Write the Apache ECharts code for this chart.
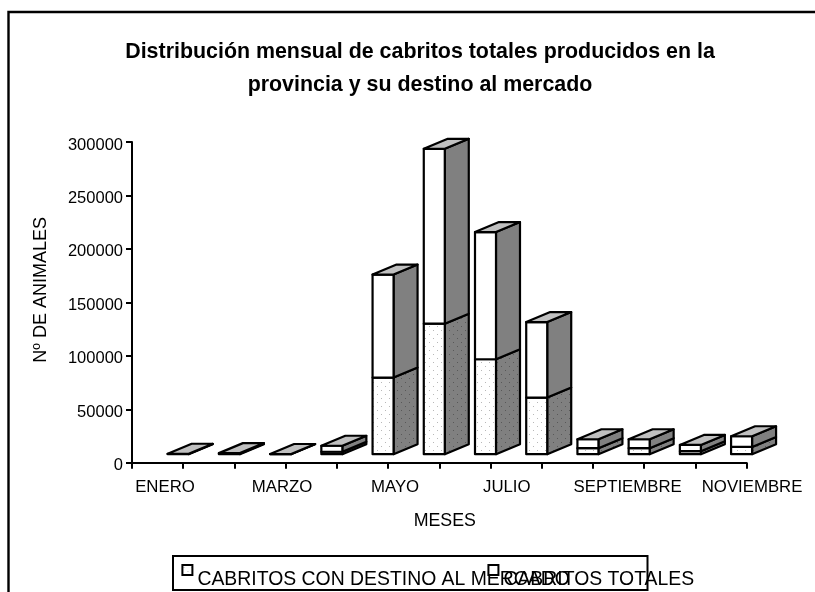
<!DOCTYPE html>
<html><head><meta charset="utf-8">
<style>html,body{margin:0;padding:0;background:#fff;overflow:hidden}#c{width:815px;height:592px}</style>
<script src="https://cdn.jsdelivr.net/npm/echarts@6/dist/echarts.min.js"></script>
</head><body><div id="c"></div>
<script>
const categories = ['ENERO','FEBRERO','MARZO','ABRIL','MAYO','JUNIO','JULIO','AGOSTO','SEPTIEMBRE','OCTUBRE','NOVIEMBRE','DICIEMBRE'];
const mercadoName = 'CABRITOS CON DESTINO AL MERCADO';
const totalesName = 'CABRITOS TOTALES';
const mercado = [200,500,100,2300,71700,122100,88800,53000,5600,5600,2800,6800];
const totales = [200,500,100,5600,96300,163600,119000,70600,8400,8400,5900,10000];
const yTicksMax = 300000, yTickStep = 50000;
const labelShift = [7.4,0,22,0,32.6,0,41.9,0,60.3,0,82.3,0];

const font = 'Liberation Sans, Arial, sans-serif';
function dots(bg, dot){
  const c = document.createElement('canvas'); c.width = 8; c.height = 8;
  const g = c.getContext('2d');
  g.fillStyle = bg; g.fillRect(0,0,8,8);
  g.fillStyle = dot;
  g.fillRect(1,2,1,1); g.fillRect(5,6,1,1);
  return {image:c, repeat:'repeat'};
}
const frontDots = dots('#ffffff','#b8b8b8');
const sideDots = dots('#808080','#585858');
const faces = [{front:frontDots, side:sideDots},{front:'#ffffff', side:'#808080'}];

function render3d(seriesIdx){
  return function(params, api){
    const cat = api.value(0), v0 = api.value(1), v1 = api.value(2);
    const band = api.size([1,0])[0];
    const base = api.coord([cat, v0]), top = api.coord([cat, v1]);
    const lift = 8.5, dx = 24, dy = -10;
    const l = base[0] + band*0.197, r = l + band*0.41;
    const yb = base[1]-lift, yt = top[1]-lift;
    const line = {stroke:'#000', lineWidth:2.2, lineJoin:'round'};
    const kids = [
      {type:'polygon', shape:{points:[[r,yb],[r+dx,yb+dy],[r+dx,yt+dy],[r,yt]]}, style:Object.assign({fill:faces[seriesIdx].side},line)},
      {type:'rect', shape:{x:l,y:yt,width:r-l,height:yb-yt}, style:Object.assign({fill:faces[seriesIdx].front},line)}
    ];
    if(seriesIdx===1) kids.push({type:'polygon', shape:{points:[[l,yt],[r,yt],[r+dx,yt+dy],[l+dx,yt+dy]]}, style:Object.assign({fill:'#c0c0c0'},line)});
    return {type:'group', children:kids};
  };
}
const mercadoData = categories.map((c,i)=>[i,0,mercado[i]]);
const totalesData = categories.map((c,i)=>[i,mercado[i],mercado[i]+totales[i]]);

const chart = echarts.init(document.getElementById('c'),null,{renderer:'canvas'});
chart.setOption({
  animation:false,
  backgroundColor:'#fff',
  title:{
    text:'Distribución mensual de cabritos totales producidos en la\nprovincia y su destino al mercado',
    left:415, top:31, textAlign:'center',
    textStyle:{fontFamily:font,fontSize:21.4,fontWeight:'bold',color:'#000',lineHeight:32.5}
  },
  grid:{left:132,right:68.4,top:142,bottom:129.3},
  xAxis:{
    type:'category',
    data:categories.map((c,i)=>({value:c,textStyle:{padding:[0,0,0,labelShift[i]*2]}})),
    name:'MESES',nameLocation:'middle',nameGap:49.5,
    nameTextStyle:{fontFamily:font,fontSize:17.8,color:'#000',padding:[0,0,0,11]},
    axisLine:{lineStyle:{color:'#000',width:2}},
    axisTick:{show:true,length:6,alignWithLabel:false,interval:0,lineStyle:{color:'#000',width:2}},
    axisLabel:{interval:1,margin:16.5,fontFamily:font,fontSize:16.8,color:'#000',hideOverlap:false}
  },
  yAxis:{
    type:'value',min:0,max:yTicksMax,interval:yTickStep,
    name:'Nº DE ANIMALES',nameLocation:'middle',nameGap:82,
    nameTextStyle:{fontFamily:font,fontSize:18,color:'#000',padding:[0,0,0,25]},
    axisLine:{show:true,lineStyle:{color:'#000',width:2}},
    axisTick:{show:true,length:6,lineStyle:{color:'#000',width:2}},
    axisLabel:{margin:9,fontFamily:font,fontSize:16.5,color:'#000',verticalAlign:'top',lineHeight:6,formatter:v=>String(v)},
    splitLine:{show:false}
  },
  legend:{
    left:181.4,top:564,padding:0,itemGap:-82.4,itemWidth:10,itemHeight:10,
    formatter:n=>'{t|'+n+'}',
    textStyle:{fontFamily:font,fontSize:19.4,color:'#000',rich:{t:{fontFamily:font,fontSize:19.4,color:'#000',padding:[20,0,0,0]}}},
    data:[
      {name:mercadoName,icon:'rect',itemStyle:{color:frontDots,borderColor:'#000',borderWidth:2}},
      {name:totalesName,icon:'rect',itemStyle:{color:'#fff',borderColor:'#000',borderWidth:2}}
    ]
  },
  graphic:[
    {type:'polyline',z:-1,shape:{points:[[8.5,592],[8.5,12],[815,12]]},style:{fill:'none',stroke:'#000',lineWidth:2.4}},
    {type:'rect',z:-1,shape:{x:173,y:556,width:474.5,height:34},style:{fill:'none',stroke:'#000',lineWidth:2}}
  ],
  series:[
    {name:mercadoName,type:'custom',renderItem:render3d(0),data:mercadoData,encode:{x:0,y:[1,2]},itemStyle:{color:'#fff',borderColor:'#000'}},
    {name:totalesName,type:'custom',renderItem:render3d(1),data:totalesData,encode:{x:0,y:[1,2]},itemStyle:{color:'#fff',borderColor:'#000'}}
  ]
});
</script></body></html>
